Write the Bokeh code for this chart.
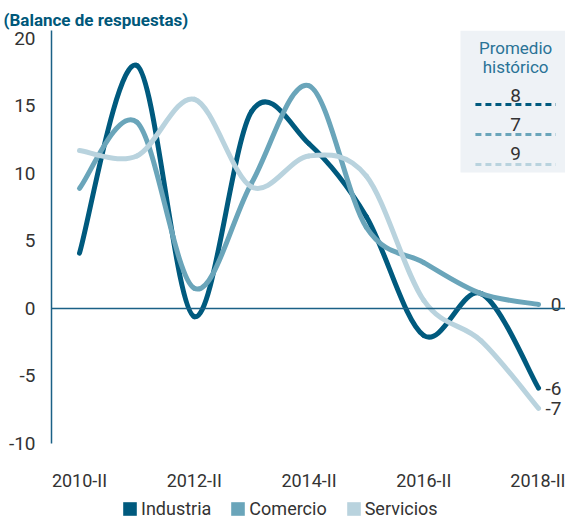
import numpy as np
from bokeh.plotting import figure
from bokeh.layouts import column
from bokeh.models import Range1d, FixedTicker, Span, Label, BoxAnnotation, Legend, LegendItem
from bokeh.core.properties import value
from bokeh.embed import file_html
from bokeh.resources import INLINE

# ---------------- data ----------------
periods = ["2010-II", "2011-II", "2012-II", "2013-II", "2014-II",
           "2015-II", "2016-II", "2017-II", "2018-II"]
labelled_periods = ["2010-II", "2012-II", "2014-II", "2016-II", "2018-II"]
industria = [4.1, 18.0, -0.6, 14.6, 12.2, 6.8, -2.0, 1.1, -5.9]
comercio = [8.9, 13.8, 1.5, 9.3, 16.5, 6.0, 3.4, 1.1, 0.3]
servicios = [11.7, 11.3, 15.5, 9.0, 11.3, 9.8, 0.6, -2.4, -7.4]
series_names = ["Industria", "Comercio", "Servicios"]
promedio_historico = [8, 7, 9]
y_ticks = [-10, -5, 0, 5, 10, 15, 20]

# ---------------- style ----------------
FONT = "Roboto"
colors = ["#005a7e", "#6aa5ba", "#b9d3de"]
axis_color = "#1b6186"
text_color = "#333333"

p = figure(frame_width=514, frame_height=413, output_backend="svg",
           toolbar_location=None,
           x_range=Range1d(-0.488, 8.470), y_range=Range1d(-10, 20.59),
           min_border_left=51, min_border_right=0, min_border_top=30,
           min_border_bottom=0)
p.outline_line_color = None
p.xgrid.visible = False
p.ygrid.visible = False
p.background_fill_color = "white"

# title
p.title.text = "(Balance de respuestas)"
p.title.text_font = FONT
p.title.text_font_style = "bold"
p.title.text_font_size = "17px"
p.title.text_color = "#00587a"
p.title.align = "left"
p.title.offset = -48
p.title.standoff = 2

# axes
p.yaxis.ticker = FixedTicker(ticks=y_ticks)
p.yaxis.major_label_overrides = {t: str(t) for t in y_ticks}
p.yaxis.axis_line_color = axis_color
p.yaxis.axis_line_width = 1.5
p.yaxis.major_tick_line_color = None
p.yaxis.minor_tick_line_color = None
p.yaxis.major_tick_out = 0
p.yaxis.major_tick_in = 0
p.yaxis.major_label_standoff = 16
p.yaxis.major_label_text_font = FONT
p.yaxis.major_label_text_font_size = "19px"
p.yaxis.major_label_text_color = text_color

x_idx = list(range(len(periods)))
tick_pos = [periods.index(t) for t in labelled_periods]
p.xaxis.ticker = FixedTicker(ticks=tick_pos)
p.xaxis.major_label_overrides = {i: periods[i] for i in tick_pos}
p.xaxis.axis_line_color = None
p.xaxis.major_tick_line_color = None
p.xaxis.minor_tick_line_color = None
p.xaxis.major_tick_out = 0
p.xaxis.major_tick_in = 0
p.xaxis.major_label_standoff = 26
p.xaxis.major_label_text_font = FONT
p.xaxis.major_label_text_font_size = "18px"
p.xaxis.major_label_text_color = text_color

# zero line
p.add_layout(Span(location=0, dimension="width", line_color=axis_color, line_width=1.3))

# ---------------- promedio histórico box ----------------
p.add_layout(BoxAnnotation(left=6.64, right=8.52, bottom=10.07, top=20.59,
                           fill_color="#eef2f6", fill_alpha=1.0, line_color=None,
                           level="underlay"))
box_cx = 7.6
for txt, yy in [("Promedio", 19.26), ("histórico", 17.85)]:
    p.add_layout(Label(x=box_cx, y=yy, text=txt, text_align="center",
                       text_baseline="middle", text_font=FONT,
                       text_font_size="17px", text_color="#2a7396"))
num_y0, line_y0, step = 15.78, 15.11, 2.15
for k, (v, c) in enumerate(zip(promedio_historico, colors)):
    p.text(x=[box_cx], y=[num_y0 - k * step], text=[str(v)],
           text_align="center", text_baseline="middle",
           text_font=value(FONT), text_font_size="19px", text_color=text_color)
    yl = line_y0 - k * 2.22
    p.line(x=[6.90, 8.30], y=[yl, yl], line_color=c, line_width=3,
           line_dash="6 4")


# ---------------- smoothed series ----------------
def smooth(xs, ys):
    x = np.asarray(xs, float)
    y = np.asarray(ys, float)
    n = len(x)
    xp = np.concatenate([[x[0]], x, [x[-1]]])
    yp = np.concatenate([[y[0]], y, [y[-1]]])
    return dict(
        x0=x[:-1], y0=y[:-1], x1=x[1:], y1=y[1:],
        cx0=x[:-1] + (xp[2:n + 1] - xp[0:n - 1]) / 6,
        cy0=y[:-1] + (yp[2:n + 1] - yp[0:n - 1]) / 6,
        cx1=x[1:] - (xp[3:n + 2] - xp[1:n]) / 6,
        cy1=y[1:] - (yp[3:n + 2] - yp[1:n]) / 6,
    )


for name, ys, c in zip(series_names, [industria, comercio, servicios], colors):
    p.bezier(**smooth(x_idx, ys), line_color=c, line_width=5, line_cap="round")

# end labels
last_x = [x_idx[-1]] * 3
last_vals = [industria[-1], comercio[-1], servicios[-1]]
p.text(x=last_x, y=last_vals, text=[f"{round(v):d}" for v in last_vals],
       x_offset=23, text_align="right", text_baseline="middle",
       text_font=value(FONT), text_font_size="19px", text_color=text_color)

# ---------------- legend strip ----------------
leg = figure(width=565, height=26, output_backend="svg", toolbar_location=None,
             x_range=Range1d(0, 1), y_range=Range1d(0, 1),
             x_axis_location=None, y_axis_location=None, min_border=0)
leg.outline_line_color = None
leg.xgrid.visible = False
leg.ygrid.visible = False
items = []
for name, c in zip(series_names, colors):
    r = leg.vbar(x=[0], top=[0], bottom=[0], width=0, fill_color=c, line_color=None)
    items.append(LegendItem(label=name, renderers=[r]))
legend = Legend(items=items, orientation="horizontal", location=(70, 0),
                label_text_font=FONT, label_text_font_size="18px",
                label_text_color=text_color, glyph_width=17, glyph_height=17,
                label_standoff=3, spacing=18, padding=3, margin=0,
                border_line_color=None, background_fill_alpha=0)
leg.add_layout(legend)

layout = column(p, leg, spacing=0)
open("out.html", "w").write(file_html(layout, INLINE))
